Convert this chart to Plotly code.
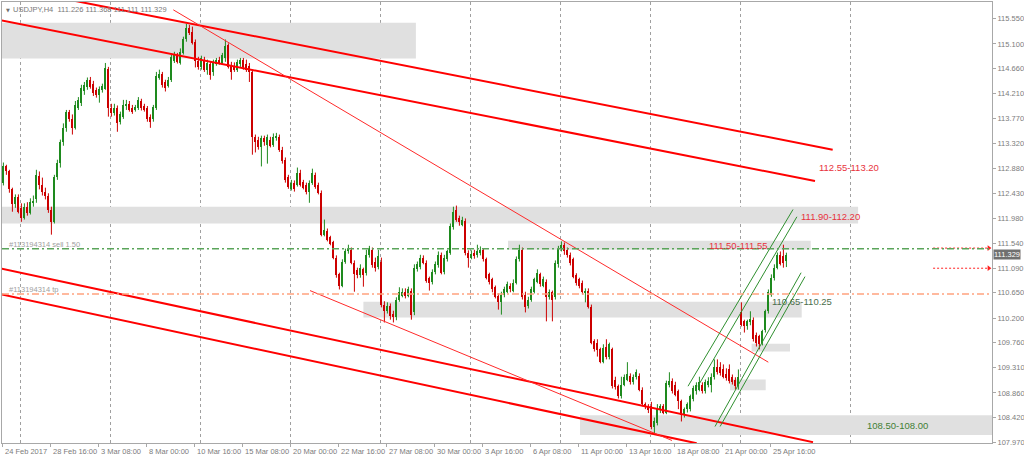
import plotly.graph_objects as go

# ---------------- data (H4 candles, bar index 0 = 24 Feb 2017 00:00) ----------------
opens = [
    112.62, 112.91, 112.82, 112.50, 112.23, 112.37, 112.17, 111.99, 112.19, 112.08,
    112.26, 112.32, 112.74, 112.58, 112.46, 112.39, 112.14, 111.92, 112.73, 112.98,
    113.35, 113.60, 113.89, 113.75, 113.60, 113.96, 114.05, 114.26, 114.33, 114.46,
    114.39, 114.28, 114.19, 114.28, 114.30, 114.66, 113.96, 113.87, 113.96, 113.71,
    113.80, 113.99, 114.03, 113.96, 113.92, 113.96, 114.08, 113.99, 113.96, 113.80,
    113.75, 113.96, 114.50, 114.57, 114.42, 114.35, 114.46, 114.80, 114.91, 114.76,
    114.94, 115.18, 115.39, 115.32, 115.14, 114.80, 114.69, 114.82, 114.64, 114.75,
    114.59, 114.75, 114.82, 114.76, 114.85, 115.09, 114.73, 114.71, 114.64, 114.75,
    114.82, 114.75, 114.71, 114.60, 113.44, 113.39, 113.26, 113.41, 113.30, 113.39,
    113.30, 113.41, 113.44, 113.21, 113.03, 112.73, 112.51, 112.62, 112.58, 112.80,
    112.64, 112.58, 112.46, 112.62, 112.76, 112.58, 112.44, 111.69, 111.76, 111.64,
    111.55, 111.28, 110.98, 110.78, 111.21, 111.39, 111.42, 111.19, 111.05, 110.96,
    111.07, 111.00, 111.32, 111.42, 111.21, 111.12, 111.21, 110.44, 110.33, 110.42,
    110.28, 110.21, 110.53, 110.60, 110.67, 110.60, 110.69, 110.30, 111.07, 111.12,
    111.28, 111.19, 110.91, 110.85, 111.03, 111.14, 111.32, 111.03, 111.26, 111.37,
    111.82, 112.14, 111.99, 111.87, 111.94, 111.37, 111.28, 111.37, 111.32, 111.37,
    111.41, 111.25, 110.98, 110.89, 110.75, 110.60, 110.48, 110.62, 110.67, 110.78,
    110.69, 110.83, 111.25, 111.42, 110.62, 110.42, 110.53, 110.67, 110.85, 110.98,
    110.78, 110.85, 110.57, 110.66, 110.57, 111.16, 111.44, 111.51, 111.42, 111.33,
    111.25, 110.96, 110.89, 110.83, 110.64, 110.69, 110.40, 109.78, 109.76, 109.64,
    109.42, 109.69, 109.50, 109.64, 109.10, 108.98, 108.80, 109.01, 109.10, 109.17,
    109.05, 109.14, 109.17, 108.92, 108.66, 108.62, 108.62, 108.26, 108.33, 108.55,
    108.62, 108.51, 109.01, 109.08, 109.01, 108.89, 108.71, 108.46, 108.57, 108.57,
    108.75, 108.89, 108.92, 109.01, 108.89, 109.01, 109.01, 109.14, 109.33, 109.32,
    109.28, 109.20, 109.28, 109.15, 109.10, 108.98, 110.30, 110.14, 110.05, 110.12,
    110.17, 109.90, 109.87, 109.76, 109.99, 110.32, 110.62, 110.92, 111.10, 111.33,
    111.30, 111.226,
]
highs = [
    112.98, 112.94, 112.85, 112.53, 112.41, 112.41, 112.25, 112.25, 112.27, 112.34,
    112.39, 112.85, 112.82, 112.71, 112.53, 112.43, 112.19, 112.76, 113.03, 113.39,
    113.68, 113.92, 113.92, 113.84, 114.08, 114.15, 114.37, 114.42, 114.50, 114.51,
    114.44, 114.32, 114.34, 114.39, 114.76, 114.69, 114.03, 114.03, 114.00, 113.89,
    114.10, 114.10, 114.08, 114.01, 114.01, 114.15, 114.12, 114.03, 113.99, 113.84,
    114.01, 114.60, 114.64, 114.60, 114.46, 114.51, 114.91, 114.96, 114.94, 115.02,
    115.23, 115.46, 115.44, 115.41, 115.18, 114.87, 114.89, 114.87, 114.82, 114.78,
    114.82, 114.85, 114.87, 114.94, 115.18, 115.11, 114.78, 114.77, 114.82, 114.85,
    114.85, 114.82, 114.76, 114.64, 113.48, 113.44, 113.46, 113.46, 113.48, 113.44,
    113.50, 113.51, 113.48, 113.26, 113.07, 112.76, 112.67, 112.66, 112.89, 112.85,
    112.67, 112.62, 112.66, 112.87, 112.80, 112.62, 112.48, 111.96, 111.80, 111.67,
    111.58, 111.32, 111.01, 111.25, 111.44, 111.51, 111.46, 111.23, 111.10, 111.16,
    111.10, 111.42, 111.49, 111.46, 111.28, 111.42, 111.28, 110.50, 110.48, 110.46,
    110.33, 110.57, 110.75, 110.73, 110.73, 110.76, 110.73, 111.16, 111.21, 111.33,
    111.32, 111.23, 110.94, 111.07, 111.21, 111.39, 111.37, 111.33, 111.42, 111.89,
    112.19, 112.21, 112.03, 112.01, 111.98, 111.41, 111.41, 111.42, 111.51, 111.48,
    111.44, 111.28, 111.01, 110.92, 110.78, 110.64, 110.67, 110.76, 110.85, 110.82,
    110.89, 111.30, 111.51, 111.46, 110.67, 110.58, 110.76, 110.92, 111.07, 111.01,
    110.94, 110.89, 110.71, 110.69, 111.23, 111.49, 111.57, 111.55, 111.46, 111.37,
    111.28, 111.00, 110.92, 110.87, 110.73, 110.73, 110.44, 109.82, 109.82, 109.67,
    109.73, 109.82, 109.76, 109.67, 109.15, 109.01, 109.15, 109.19, 109.41, 109.21,
    109.19, 109.28, 109.21, 108.96, 108.69, 108.66, 108.70, 108.42, 108.66, 108.66,
    108.66, 109.08, 109.23, 109.12, 109.06, 108.92, 108.74, 108.60, 108.69, 108.83,
    108.99, 109.05, 109.15, 109.05, 109.10, 109.14, 109.21, 109.46, 109.46, 109.41,
    109.37, 109.30, 109.37, 109.19, 109.14, 109.28, 110.48, 110.17, 110.17, 110.32,
    110.21, 109.94, 109.90, 109.99, 110.35, 110.71, 110.98, 111.16, 111.37, 111.39,
    111.51, 111.368,
]
lows = [
    112.57, 112.76, 112.44, 112.10, 112.17, 112.07, 111.92, 111.96, 112.03, 112.05,
    112.19, 112.26, 112.50, 112.39, 112.32, 112.08, 111.69, 111.89, 112.67, 112.89,
    113.28, 113.53, 113.71, 113.48, 113.57, 113.92, 113.99, 114.19, 114.28, 114.30,
    114.17, 114.14, 114.05, 114.23, 114.28, 113.80, 113.80, 113.82, 113.53, 113.66,
    113.76, 113.92, 113.89, 113.85, 113.89, 113.92, 113.91, 113.89, 113.71, 113.60,
    113.71, 113.92, 114.46, 114.32, 114.25, 114.32, 114.42, 114.76, 114.75, 114.73,
    114.91, 115.14, 115.26, 115.09, 114.68, 114.64, 114.64, 114.60, 114.55, 114.46,
    114.53, 114.71, 114.73, 114.73, 114.78, 114.66, 114.46, 114.60, 114.60, 114.69,
    114.64, 114.60, 114.42, 113.12, 113.16, 113.21, 112.91, 113.28, 112.96, 113.25,
    113.26, 113.37, 113.17, 112.96, 112.62, 112.51, 112.48, 112.46, 112.55, 112.55,
    112.50, 112.41, 112.26, 112.58, 112.51, 112.41, 111.66, 111.66, 111.57, 111.50,
    111.25, 110.92, 110.71, 110.75, 111.17, 111.35, 111.16, 110.67, 110.91, 110.92,
    110.76, 110.96, 111.28, 111.10, 111.03, 111.07, 110.39, 110.12, 110.28, 110.17,
    110.12, 110.16, 110.49, 110.57, 110.55, 110.57, 110.17, 110.25, 111.03, 111.07,
    111.16, 110.83, 110.69, 110.80, 110.98, 111.10, 110.98, 110.98, 111.21, 111.33,
    111.78, 111.92, 111.85, 111.84, 111.32, 111.10, 111.25, 111.26, 111.28, 111.32,
    111.21, 110.89, 110.80, 110.66, 110.55, 110.35, 110.26, 110.57, 110.64, 110.66,
    110.66, 110.80, 111.21, 110.53, 110.30, 110.37, 110.49, 110.64, 110.82, 110.76,
    110.75, 110.14, 110.53, 110.14, 110.53, 111.10, 111.39, 111.33, 111.28, 111.14,
    110.91, 110.78, 110.73, 110.62, 110.48, 110.37, 109.73, 109.60, 109.51, 109.39,
    109.39, 109.46, 109.46, 108.94, 108.92, 108.76, 108.76, 108.98, 109.07, 109.01,
    109.01, 109.10, 108.89, 108.62, 108.57, 108.50, 108.21, 108.12, 108.28, 108.50,
    108.48, 108.48, 108.96, 108.85, 108.80, 108.57, 108.35, 108.42, 108.51, 108.53,
    108.71, 108.83, 108.89, 108.85, 108.85, 108.96, 108.87, 109.10, 109.19, 109.17,
    109.12, 109.08, 109.03, 109.01, 108.92, 108.92, 110.05, 109.94, 109.99, 110.07,
    109.78, 109.69, 109.64, 109.71, 109.94, 110.28, 110.58, 110.87, 111.07, 111.14,
    111.10, 111.111,
]
closes = [
    112.91, 112.82, 112.50, 112.23, 112.37, 112.10, 111.99, 112.19, 112.08, 112.28,
    112.30, 112.76, 112.58, 112.46, 112.39, 112.14, 111.92, 112.73, 112.98, 113.35,
    113.60, 113.89, 113.75, 113.60, 114.01, 114.10, 114.32, 114.37, 114.46, 114.33,
    114.23, 114.19, 114.30, 114.34, 114.67, 113.96, 113.87, 113.96, 113.69, 113.84,
    114.01, 114.03, 113.92, 113.89, 113.98, 114.10, 113.96, 113.92, 113.75, 113.71,
    113.98, 114.53, 114.57, 114.37, 114.32, 114.46, 114.87, 114.91, 114.78, 114.96,
    115.18, 115.39, 115.30, 115.12, 114.80, 114.69, 114.85, 114.64, 114.76, 114.55,
    114.76, 114.82, 114.76, 114.91, 115.07, 114.69, 114.60, 114.64, 114.78, 114.82,
    114.68, 114.64, 114.59, 113.44, 113.35, 113.26, 113.41, 113.34, 113.43, 113.28,
    113.44, 113.46, 113.21, 113.00, 112.66, 112.55, 112.62, 112.50, 112.80, 112.58,
    112.53, 112.46, 112.62, 112.80, 112.55, 112.44, 111.69, 111.78, 111.60, 111.53,
    111.28, 110.96, 110.78, 111.21, 111.39, 111.46, 111.19, 110.98, 110.96, 111.09,
    110.96, 111.33, 111.46, 111.14, 111.10, 111.30, 110.44, 110.33, 110.42, 110.24,
    110.21, 110.53, 110.66, 110.67, 110.60, 110.71, 110.26, 111.10, 111.16, 111.28,
    111.19, 110.87, 110.82, 111.03, 111.16, 111.33, 111.01, 111.28, 111.39, 111.84,
    112.10, 111.96, 111.91, 111.96, 111.37, 111.28, 111.35, 111.30, 111.39, 111.42,
    111.25, 110.92, 110.85, 110.71, 110.58, 110.48, 110.62, 110.71, 110.80, 110.71,
    110.83, 111.25, 111.42, 110.58, 110.40, 110.53, 110.71, 110.89, 111.01, 110.80,
    110.89, 110.57, 110.67, 110.53, 111.19, 111.46, 111.51, 111.39, 111.32, 111.19,
    110.94, 110.83, 110.78, 110.66, 110.69, 110.40, 109.76, 109.64, 109.62, 109.42,
    109.67, 109.50, 109.73, 108.98, 108.96, 108.80, 109.01, 109.14, 109.19, 109.05,
    109.15, 109.23, 108.92, 108.66, 108.60, 108.55, 108.26, 108.35, 108.57, 108.62,
    108.51, 109.03, 109.08, 108.89, 108.83, 108.71, 108.46, 108.57, 108.66, 108.80,
    108.94, 109.00, 109.05, 108.89, 109.05, 109.07, 109.15, 109.33, 109.24, 109.21,
    109.15, 109.12, 109.07, 109.05, 108.98, 109.15, 110.08, 110.05, 110.14, 110.19,
    109.82, 109.76, 109.73, 109.96, 110.32, 110.66, 110.92, 111.10, 111.33, 111.16,
    111.18, 111.329,
]

x_tick_bars = [0, 16, 32, 48, 64, 80, 96, 112, 128, 144, 160, 176, 192, 208, 224, 240, 256]
x_tick_labels = ["24 Feb 2017", "28 Feb 16:00", "3 Mar 08:00", "8 Mar 00:00", "10 Mar 16:00",
                 "15 Mar 08:00", "20 Mar 00:00", "22 Mar 16:00", "27 Mar 08:00", "30 Mar 00:00",
                 "3 Apr 16:00", "6 Apr 08:00", "11 Apr 00:00", "13 Apr 16:00", "18 Apr 08:00",
                 "21 Apr 00:00", "25 Apr 16:00"]
week_grid_bars = [6, 36, 66, 96, 126, 156, 186, 216, 246]
future_grid_bar = 282.67
price_ticks = [115.55, 115.10, 114.66, 114.21, 113.77, 113.32, 112.88, 112.43, 111.98,
               111.54, 111.09, 110.65, 110.20, 109.76, 109.31, 108.86, 108.42, 107.97]

# zones: (bar from, bar to, price low, price high)
zones = [
    (-0.47, 137.5, 114.84, 115.48),
    (-0.47, 284.9, 111.89, 112.19),
    (168.2, 269.1, 111.42, 111.58),
    (120.0, 266.1, 110.21, 110.49),
    (249.4, 262.2, 109.60, 109.74),
    (242.2, 254.1, 108.91, 109.10),
    (192.2, 329.6, 108.11, 108.46),
]
zone_texts = ["112.55-113.20", "111.90-112.20", "111.50-111.55", "110.65-110.25", "108.50-108.00"]
zone_text_bars = [271.2, 265.2, 234.5, 255.5, 287.2]
zone_text_prices = [112.89, 112.01, 111.50, 110.50, 108.28]

# trend lines: ((bar, price), (bar, price))
thick_lines = [((20.0, 115.91), (276.43, 113.21)),
               ((-0.57, 115.52), (270.53, 112.65)),
               ((-0.57, 111.08), (269.87, 107.98)),
               ((-0.57, 110.62), (231.1, 107.96))]
thin_lines = [((56.63, 115.71), (254.97, 109.41)),
              ((102.2, 110.69), (222.87, 108.01))]
channel_lines = [((228.2, 108.98), (263.2, 112.14)),
                 ((231.5, 108.98), (264.5, 112.01)),
                 ((237.2, 108.26), (265.9, 111.01)),
                 ((238.9, 108.26), (267.2, 110.94))]

order_id = "#113194314"
sell_price = 111.44
tp_price = 110.63
alert_prices = [111.45, 111.09]
alert_bars = (309.9, 328.5)
last_price = 111.329
symbol_text = "USDJPY,H4\u00a0\u00a0111.226 111.368 111.111 111.329"

# ---------------- styles ----------------
BULL = "#1f8a1f"
BEAR = "#cc0000"
FONT = "Liberation Sans"
AXIS_TXT = "#7c7c7c"
FRAME = "#a8a8a8"
X_RANGE = [-0.4667, 329.5333]
Y_RANGE = [107.965, 115.85]

fig = go.Figure()

# candles
for is_bull, col in ((True, BULL), (False, BEAR)):
    wx, wy, bx, bb, bh = [], [], [], [], []
    for i, (o, h, l, c) in enumerate(zip(opens, highs, lows, closes)):
        if (c >= o) != is_bull:
            continue
        wx += [i, i, None]
        wy += [min(l, o, c), max(h, o, c), None]
        bx.append(i)
        bb.append(min(o, c))
        bh.append(max(abs(c - o), 0.012))
    fig.add_trace(go.Scatter(x=wx, y=wy, mode="lines", line=dict(color=col, width=1),
                             hoverinfo="skip"))
    fig.add_trace(go.Bar(x=bx, y=bh, base=bb, width=0.7, marker=dict(color=col, line=dict(width=0)),
                         hoverinfo="skip"))

# lines
for (p0, p1) in thick_lines:
    fig.add_trace(go.Scatter(x=[p0[0], p1[0]], y=[p0[1], p1[1]], mode="lines",
                             line=dict(color="#ff0000", width=2), hoverinfo="skip"))
for (p0, p1) in thin_lines:
    fig.add_trace(go.Scatter(x=[p0[0], p1[0]], y=[p0[1], p1[1]], mode="lines",
                             line=dict(color="#ff2a2a", width=1), hoverinfo="skip"))
for (p0, p1) in channel_lines:
    fig.add_trace(go.Scatter(x=[p0[0], p1[0]], y=[p0[1], p1[1]], mode="lines",
                             line=dict(color="#2f8f2f", width=1), hoverinfo="skip"))

# alert arrows
for ap in alert_prices:
    fig.add_trace(go.Scatter(x=list(alert_bars), y=[ap, ap], mode="lines",
                             line=dict(color="#ff2020", width=1, dash="2px,2px"), hoverinfo="skip"))
    fig.add_trace(go.Scatter(x=[alert_bars[1]], y=[ap], mode="markers",
                             marker=dict(symbol="triangle-right", size=5, color="#ff2020"),
                             hoverinfo="skip"))

shapes = []
for (x0, x1, p0, p1) in zones:
    shapes.append(dict(type="rect", xref="x", yref="y", x0=x0, x1=x1, y0=p0, y1=p1,
                       fillcolor="#e0e0e0", line=dict(width=0), layer="below"))
for g in week_grid_bars + [future_grid_bar]:
    shapes.append(dict(type="line", xref="x", yref="paper", x0=g - 0.3, x1=g - 0.3, y0=0, y1=1,
                       line=dict(color="#a0a0a0", width=1, dash="3px,3px"), layer="below"))
shapes.append(dict(type="line", xref="paper", yref="y", x0=0, x1=1, y0=sell_price, y1=sell_price,
                   line=dict(color="#5aa55a", width=1.5, dash="7px,3px,2px,3px"), layer="above"))
shapes.append(dict(type="line", xref="paper", yref="y", x0=0, x1=1, y0=tp_price, y1=tp_price,
                   line=dict(color="#ffa37f", width=1.5, dash="7px,3px,2px,3px"), layer="above"))

ann = []
zone_cols = ["#e8323c", "#e8323c", "#e8323c", "#4c6e4c", "#3f7f35"]
for t, xb, yp, col in zip(zone_texts, zone_text_bars, zone_text_prices, zone_cols):
    ann.append(dict(x=xb, y=yp, xref="x", yref="y", text=t, showarrow=False, xanchor="left",
                    yanchor="middle", font=dict(family=FONT, size=9.5, color=col)))
ann.append(dict(x=1.2, y=sell_price + 0.08, xref="x", yref="y", text=order_id + " sell 1.50",
                showarrow=False, xanchor="left", yanchor="middle",
                font=dict(family=FONT, size=7.5, color="#a0a0a0")))
ann.append(dict(x=1.2, y=tp_price + 0.08, xref="x", yref="y", text=order_id + " tp",
                showarrow=False, xanchor="left", yanchor="middle",
                font=dict(family=FONT, size=7.5, color="#a0a0a0")))
for b, t in zip(x_tick_bars, x_tick_labels):
    ann.append(dict(x=b - 0.3, y=0, xref="x", yref="paper", text=t, showarrow=False,
                    xanchor="left", yanchor="top", yshift=-2,
                    font=dict(family=FONT, size=7.5, color=AXIS_TXT)))
ann.append(dict(x=0, y=1, xref="paper", yref="paper", text="\u25bc", showarrow=False,
                xanchor="left", yanchor="top", xshift=2, yshift=-3,
                font=dict(family="DejaVu Sans", size=5, color="#707070")))
ann.append(dict(x=0, y=1, xref="paper", yref="paper", text=symbol_text, showarrow=False,
                xanchor="left", yanchor="top", xshift=9, yshift=-1,
                font=dict(family=FONT, size=7.5, color="#7a7a7a")))
ann.append(dict(x=1, y=last_price, xref="paper", yref="y", text=f"{last_price:.3f}",
                showarrow=False, xanchor="left", yanchor="middle", xshift=1,
                bgcolor="#707070", borderpad=0,
                font=dict(family=FONT, size=7.5, color="#ffffff")))

fig.update_layout(
    template="none",
    width=1024, height=460,
    margin=dict(l=2, r=32, t=2, b=17, pad=0, autoexpand=False),
    paper_bgcolor="white", plot_bgcolor="white",
    showlegend=False, barmode="overlay", bargap=0,
    shapes=shapes, annotations=ann,
    xaxis=dict(range=X_RANGE, showgrid=False, zeroline=False, showline=True, linecolor=FRAME,
               linewidth=1, mirror=True, ticks="outside", ticklen=3, tickcolor=FRAME,
               tickvals=[b - 0.3 for b in x_tick_bars], showticklabels=False, automargin=False,
               fixedrange=True),
    yaxis=dict(range=Y_RANGE, side="right", showgrid=False, zeroline=False, showline=True,
               linecolor=FRAME, linewidth=1, mirror=True, ticks="outside", ticklen=3,
               tickcolor=FRAME, tickvals=price_ticks, ticktext=[f"{p:.3f}" for p in price_ticks],
               tickfont=dict(family=FONT, size=7.5, color=AXIS_TXT), automargin=False,
               fixedrange=True),
)

fig.write_html("out.html", config={"displayModeBar": False},
               post_script="document.body.style.margin='0px';document.body.style.overflow='hidden';")
